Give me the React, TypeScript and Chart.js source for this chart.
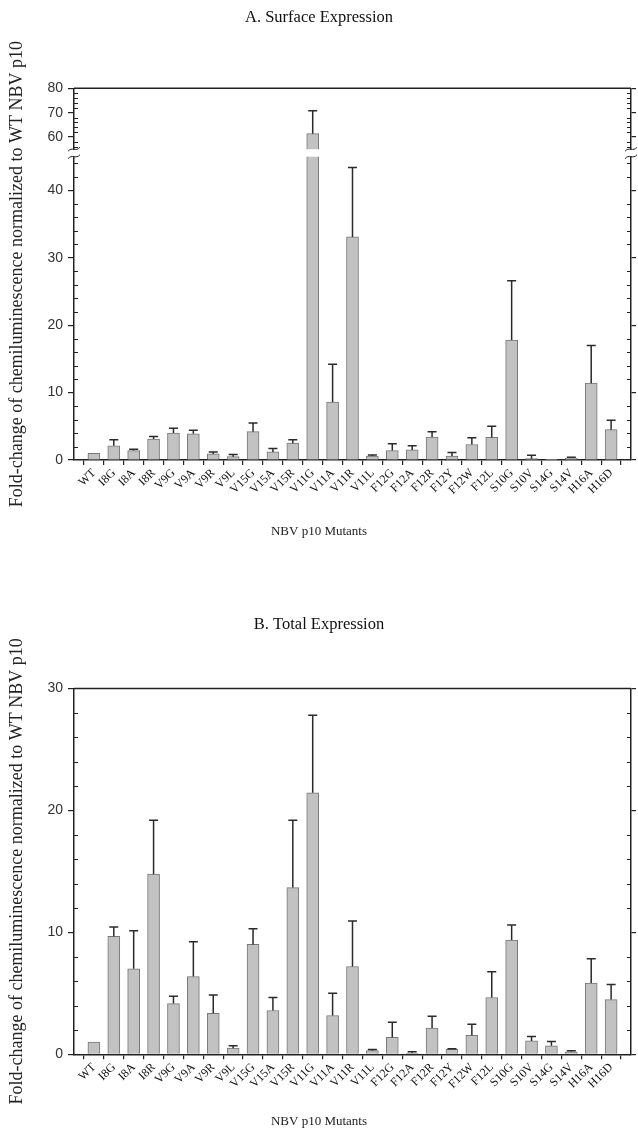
import React, { useEffect, useRef } from 'react';
import { Chart, registerables, LinearScale } from 'chart.js';

Chart.register(...registerables);

// ---------- data ----------
const mutants = ['WT', 'I8G', 'I8A', 'I8R', 'V9G', 'V9A', 'V9R', 'V9L', 'V15G', 'V15A', 'V15R', 'V11G', 'V11A', 'V11R', 'V11L', 'F12G', 'F12A', 'F12R', 'F12Y', 'F12W', 'F12L', 'S10G', 'S10V', 'S14G', 'S14V', 'H16A', 'H16D'];

const surfaceMean = [1.0, 2.1, 1.4, 3.1, 4.0, 3.9, 0.9, 0.5, 4.2, 1.2, 2.5, 61.4, 8.6, 33.1, 0.6, 1.4, 1.5, 3.4, 0.6, 2.3, 3.35, 17.8, 0.2, 0.1, 0.3, 11.4, 4.5];
const surfaceSD = [0, 0.9, 0.2, 0.4, 0.7, 0.5, 0.3, 0.3, 1.3, 0.5, 0.5, 9.4, 5.6, 10.3, 0.15, 1.0, 0.6, 0.8, 0.5, 1.0, 1.65, 8.8, 0.5, 0, 0.1, 5.6, 1.4];

const totalMean = [1.0, 9.67, 7.01, 14.77, 4.16, 6.38, 3.37, 0.5, 9.01, 3.59, 13.67, 21.45, 3.18, 7.2, 0.3, 1.4, 0.1, 2.16, 0.4, 1.56, 4.66, 9.37, 1.1, 0.7, 0.2, 5.84, 4.49];
const totalSD = [0, 0.77, 3.13, 4.43, 0.6, 2.85, 1.5, 0.2, 1.29, 1.07, 5.53, 6.35, 1.83, 3.73, 0.1, 1.23, 0.1, 0.96, 0.05, 0.91, 2.11, 1.23, 0.35, 0.35, 0.1, 2.0, 1.24];

const surfaceTicks = [0, 10, 20, 30, 40, 60, 70, 80];
const totalTicks = [0, 10, 20, 30];

const titleA = 'A. Surface Expression';
const titleB = 'B. Total Expression';
const xTitle = 'NBV p10 Mutants';
const yTitle = 'Fold-change of chemiluminescence normalized to WT NBV p10';

const SERIF = "'Liberation Serif', 'Times New Roman', serif";
const SANS = "'Liberation Sans', Arial, sans-serif";
const INK = '#222';

// ---------- broken linear scale ----------
class BrokenLinearScale extends LinearScale {
  static id = 'brokenLinear';
  static defaults = LinearScale.defaults;

  _dec(value) {
    const o = this.options;
    const lo = o.breakLow, hi = o.breakHigh, fl = o.fracLow, fg = o.fracGap;
    if (value <= lo) return ((value - this.min) / (lo - this.min)) * fl;
    if (value >= hi) return fl + fg + ((value - hi) / (this.max - hi)) * (1 - fl - fg);
    return fl + ((value - lo) / (hi - lo)) * fg;
  }

  getPixelForValue(value) {
    if (value === null || value === undefined || Number.isNaN(+value)) return NaN;
    return this.getPixelForDecimal(this._dec(+value));
  }

  getValueForPixel(pixel) {
    const d = this.getDecimalForPixel(pixel);
    const o = this.options;
    const lo = o.breakLow, hi = o.breakHigh, fl = o.fracLow, fg = o.fracGap;
    if (d <= fl) return this.min + (d / fl) * (lo - this.min);
    if (d >= fl + fg) return hi + ((d - fl - fg) / (1 - fl - fg)) * (this.max - hi);
    return lo + ((d - fl) / fg) * (hi - lo);
  }
}
Chart.register(BrokenLinearScale);

// ---------- decoration plugin ----------
function decorPlugin(p) {
  return {
    id: 'decor',
    afterDatasetsDraw(chart) {
      const ctx = chart.ctx;
      const ca = chart.chartArea;
      const xs = chart.scales.x;
      const ys = chart.scales.y;
      ctx.save();

      const hasBreak = p.breakLow !== undefined;
      let pLo = 0, pHi = 0;
      if (hasBreak) {
        pLo = ys.getPixelForValue(p.breakLow);
        pHi = ys.getPixelForValue(p.breakHigh);
        ctx.fillStyle = '#fff';
        ctx.fillRect(ca.left + 1, pHi, ca.right - ca.left - 2, pLo - pHi);
      }

      // error bars (upper only)
      ctx.strokeStyle = '#2a2a2a';
      ctx.lineWidth = 1.5;
      p.means.forEach((m, i) => {
        const sd = p.sds[i];
        if (!sd) return;
        const px = xs.getPixelForValue(i);
        const y0 = ys.getPixelForValue(m);
        const y1 = ys.getPixelForValue(m + sd);
        ctx.beginPath();
        ctx.moveTo(px, y0);
        ctx.lineTo(px, y1);
        ctx.moveTo(px - 4.5, y1);
        ctx.lineTo(px + 4.5, y1);
        ctx.stroke();
      });

      // frame top
      ctx.strokeStyle = INK;
      ctx.lineWidth = 1.5;
      ctx.beginPath();
      ctx.moveTo(ca.left, ca.top);
      ctx.lineTo(ca.right, ca.top);
      ctx.stroke();

      // minor ticks (inward) both sides
      ctx.lineWidth = 1;
      for (let v = 0; v <= p.yMax; v += p.minorStep) {
        if (p.majors.includes(v)) continue;
        if (hasBreak && v > p.breakLow && v < p.breakHigh) continue;
        const py = Math.round(ys.getPixelForValue(v)) + 0.5;
        ctx.beginPath();
        ctx.moveTo(ca.left, py);
        ctx.lineTo(ca.left + 4, py);
        ctx.moveTo(ca.right, py);
        ctx.lineTo(ca.right - 4, py);
        ctx.stroke();
      }

      // axis break marks
      if (hasBreak) {
        [ca.left, ca.right].forEach((ax) => {
          ctx.fillStyle = '#fff';
          ctx.fillRect(ax - 3, pHi + 0.5, 6, pLo - pHi - 1);
          ctx.strokeStyle = INK;
          ctx.lineWidth = 1;
          [pHi, pLo].forEach((yy) => {
            ctx.beginPath();
            ctx.moveTo(ax - 6, yy + 2);
            ctx.bezierCurveTo(ax - 2, yy - 3, ax + 2, yy + 3, ax + 6, yy - 2);
            ctx.stroke();
          });
        });
      }

      ctx.restore();
    },
  };
}

// ---------- config ----------
function makeConfig(p) {
  const breakOpts = p.yType === 'brokenLinear'
    ? { breakLow: p.breakLow, breakHigh: p.breakHigh, fracLow: p.fracLow, fracGap: p.fracGap }
    : {};

  const yScale = {
    type: p.yType,
    position: 'left',
    min: 0,
    max: p.yMax,
    ...breakOpts,
    afterBuildTicks: (s) => {
      s.ticks = p.majors.map((v) => ({ value: v }));
    },
    afterFit: (s) => {
      s.width = 74;
    },
    ticks: {
      font: { family: SANS, size: 14 },
      color: '#333',
      padding: 5,
      callback: (v) => String(v),
    },
    grid: { drawOnChartArea: false, drawTicks: true, tickLength: 6, color: INK, lineWidth: 1.2 },
    border: { display: true, color: INK, width: 1.5 },
    title: {
      display: true,
      text: yTitle,
      font: { family: SERIF, size: 18 },
      color: INK,
      padding: { top: 6, bottom: 0 },
    },
  };

  const yRight = {
    type: p.yType,
    position: 'right',
    min: 0,
    max: p.yMax,
    ...breakOpts,
    afterBuildTicks: (s) => {
      s.ticks = p.majors.map((v) => ({ value: v }));
    },
    afterFit: (s) => {
      s.width = 7;
    },
    ticks: { display: false },
    grid: { drawOnChartArea: false, drawTicks: true, tickLength: 5, color: INK, lineWidth: 1.2 },
    border: { display: true, color: INK, width: 1.5 },
  };

  return {
    type: 'bar',
    data: {
      datasets: [
        {
          data: p.means.map((v, i) => ({ x: i, y: v })),
          backgroundColor: '#c2c2c2',
          borderColor: '#777',
          borderWidth: 1,
          barThickness: 12,
          xAxisID: 'x',
          yAxisID: 'y',
        },
      ],
    },
    options: {
      animation: false,
      responsive: false,
      devicePixelRatio: 1,
      layout: { padding: 0 },
      plugins: {
        legend: { display: false },
        tooltip: { enabled: false },
        title: {
          display: true,
          text: p.title,
          font: { family: SERIF, size: 16.5, weight: 'normal' },
          color: '#111',
          padding: { top: p.titleTop, bottom: p.titleBottom },
        },
        subtitle: {
          display: true,
          position: 'bottom',
          text: xTitle,
          font: { family: SERIF, size: 13, weight: 'normal' },
          color: INK,
          padding: { top: 0, bottom: p.xTitleBottom },
        },
      },
      scales: {
        x: {
          type: 'linear',
          min: -1,
          max: 27,
          offset: false,
          afterBuildTicks: (s) => {
            s.ticks = mutants.map((_, i) => ({ value: i }));
          },
          afterFit: (s) => {
            s.height = p.xHeight;
          },
          ticks: {
            autoSkip: false,
            minRotation: 45,
            maxRotation: 45,
            padding: 1,
            font: { family: SERIF, size: 12 },
            color: '#111',
            callback: (v) => (mutants[v] !== undefined ? mutants[v] : ''),
          },
          grid: { drawOnChartArea: false, drawTicks: true, tickLength: 5, color: INK, lineWidth: 1.2 },
          border: { display: true, color: INK, width: 1.5 },
        },
        y: yScale,
        y2: yRight,
      },
    },
    plugins: [decorPlugin(p)],
  };
}

const panelA = {
  title: titleA,
  titleTop: 8,
  titleBottom: 60.5,
  xHeight: 64.2,
  xTitleBottom: 20.2,
  yType: 'brokenLinear',
  yMax: 80,
  breakLow: 45,
  breakHigh: 55,
  fracLow: 0.816,
  fracGap: 0.02,
  majors: surfaceTicks,
  minorStep: 2,
  means: surfaceMean,
  sds: surfaceSD,
};

const panelB = {
  title: titleB,
  titleTop: 55.2,
  titleBottom: 53.5,
  xHeight: 59.9,
  xTitleBottom: 5.2,
  yType: 'linear',
  yMax: 30,
  majors: totalTicks,
  minorStep: 2,
  means: totalMean,
  sds: totalSD,
};

function Panel({ panel, top, height }) {
  const ref = useRef(null);
  useEffect(() => {
    const chart = new Chart(ref.current, makeConfig(panel));
    return () => chart.destroy();
  }, []);
  return (
    <canvas
      ref={ref}
      width={638}
      height={height}
      style={{ position: 'absolute', left: 0, top, width: 638, height, display: 'block' }}
    />
  );
}

export default function App() {
  return (
    <div style={{ position: 'absolute', left: 0, top: 0, width: 638, height: 1135, background: '#fff' }}>
      <Panel panel={panelA} top={0} height={560} />
      <Panel panel={panelB} top={560} height={575} />
    </div>
  );
}
